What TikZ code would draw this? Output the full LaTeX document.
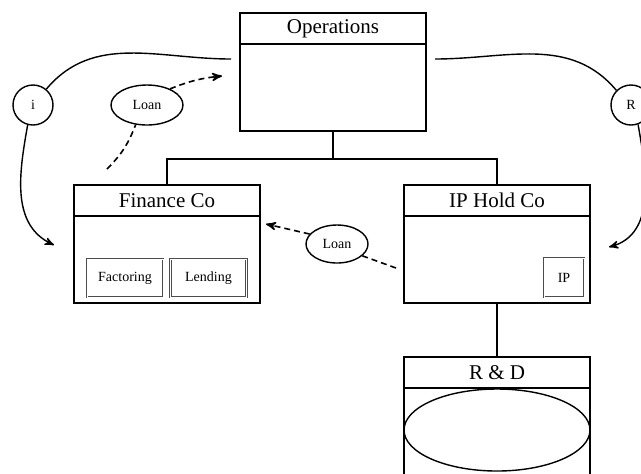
\documentclass[tikz,border=0pt]{standalone}
\usepackage{fontspec}
\setmainfont{Liberation Serif}
\usetikzlibrary{shapes,arrows,positioning,calc}

\tikzset{
  company/.style={draw, line width=1pt, minimum width=93pt, minimum height=59pt, inner sep=0pt},
  header/.style={draw, line width=1pt, minimum width=93pt, minimum height=15.5pt, inner sep=0pt, font=\fontsize{10.5}{12}\selectfont},
  unit/.style={draw=black!70, double=white, double distance=0.5pt, line width=0.3pt, inner sep=0pt, font=\fontsize{7}{8}\selectfont},
  flow/.style={draw, circle, line width=0.7pt, minimum size=20pt, inner sep=0pt, font=\fontsize{7}{8}\selectfont},
  loan/.style={draw, ellipse, line width=0.7pt, minimum width=36pt, minimum height=20pt, inner sep=0pt, font=\fontsize{7}{8}\selectfont},
  link/.style={line width=0.7pt},
  lend/.style={line width=0.8pt, dash pattern=on 3pt off 2pt}
}

\begin{document}
\begin{tikzpicture}[x=0.5pt, y=-0.5pt, >=stealth']
\useasboundingbox (0,0) rectangle (641,473);

% companies
\node[company] (ops) at (333,72) {};
\node[header, anchor=north] (opsh) at (ops.north) {Operations};
\node[company] (fin) at (167,244) {};
\node[header, anchor=north] (finh) at (fin.north) {Finance Co};
\node[company] (ip) at (497,244) {};
\node[header, anchor=north] (iph) at (ip.north) {IP Hold Co};
\node[company] (rd) at (497,416) {};
\node[header, anchor=north] (rdh) at (rd.north) {R \& D};
\node[draw, ellipse, line width=0.7pt, minimum width=93pt, minimum height=41pt] (lab) at (497,430) {};

% units inside
\node[unit, minimum width=38pt, minimum height=19pt] (fact) at (125,278) {Factoring};
\node[unit, minimum width=38pt, minimum height=19pt] (lend) at (208.5,278) {Lending};
\node[unit, minimum width=20pt, minimum height=19.5pt] (ipbox) at (564,277.5) {IP};

% ownership
\coordinate (split) at ($(ops.south)+(0,27)$);
\draw[line width=1pt] (ops.south) -- (split);
\draw[line width=1pt] (fin.north) |- (split) -| (iph.north);
\draw[line width=1pt] (ip.south) -- (rdh.north);

% interest and royalties
\node[flow] (int) at (33,105) {i};
\node[flow] (roy) at (631,105) {R};
\draw[link] (int.50) to[out=50, in=180] ([shift={(-8,-13)}]ops.west);
\draw[link, ->] (int.255) to[out=-100, in=155] ([shift={(-19,1)}]fin.west);
\draw[link] ([shift={(8,-13)}]ops.east) to[out=0, in=130] (roy.135);
\draw[link, ->] (roy.-70) to[out=-80, in=15] ([shift={(18,3)}]ip.east);

% loans
\node[loan] (loanA) at (147,105) {Loan};
\node[loan, minimum width=31pt, minimum height=19pt] (loanB) at (337,244) {Loan};
\coordinate (finout) at ([shift={(-60,-15)}]fin.north);
\draw[lend] (finout) to[bend right=12] (loanA.-120);
\draw[lend, ->] (loanA.35) to[bend left=8] ([shift={(-17,4)}]ops.west);
\coordinate (ipout) at ([shift={(-7,24)}]ip.west);
\draw[lend] (ipout) -- (loanB.-25);
\draw[lend, ->] (loanB.160) -- ([shift={(5,-20)}]fin.east);
\end{tikzpicture}
\end{document}
